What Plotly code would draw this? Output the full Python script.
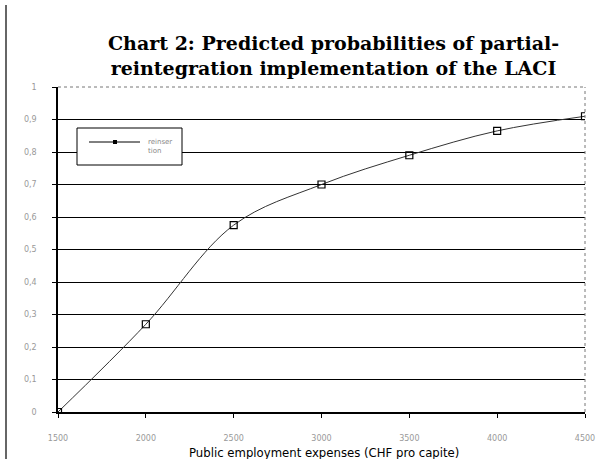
import plotly.graph_objects as go

expenses = [1500, 2000, 2500, 3000, 3500, 4000, 4500]
probability = [0.0, 0.27, 0.575, 0.70, 0.79, 0.865, 0.91]
x_ticks = [1500, 2000, 2500, 3000, 3500, 4000, 4500]
y_ticks = [0, 0.1, 0.2, 0.3, 0.4, 0.5, 0.6, 0.7, 0.8, 0.9, 1.0]
y_labels = ["0", "0,1", "0,2", "0,3", "0,4", "0,5", "0,6", "0,7", "0,8", "0,9", "1"]
series_name = "reinser<br>tion"

W, H = 607, 459
L, R, T, B = 58, 22, 87, 47
PW, PH = W - L - R, H - T - B


def px(x):
    return (x - L) / PW


def py(y):
    return (H - B - y) / PH


fig = go.Figure()
fig.add_trace(go.Scatter(
    x=expenses, y=probability, mode="lines+markers", name="reinsertion",
    line=dict(color="#333333", width=1, shape="spline", smoothing=1.0),
    marker=dict(symbol="square-open", size=7, color="black", line=dict(width=1.2)),
    showlegend=False,
))

shapes = [
    dict(type="line", xref="paper", yref="paper", x0=0, x1=1, y0=1, y1=1,
         line=dict(color="#777777", width=1, dash="dot")),
    dict(type="line", xref="paper", yref="paper", x0=1, x1=1, y0=0, y1=1,
         line=dict(color="#777777", width=1, dash="dot")),
    dict(type="line", xref="paper", yref="paper", x0=px(6), x1=px(6), y0=py(459), y1=py(5),
         line=dict(color="#666666", width=2)),
    # legend box
    dict(type="rect", xref="paper", yref="paper", x0=px(77), x1=px(182), y0=py(165), y1=py(128),
         fillcolor="white", line=dict(color="black", width=1), layer="above"),
    dict(type="line", xref="paper", yref="paper", x0=px(89), x1=px(140), y0=py(142), y1=py(142),
         line=dict(color="black", width=1), layer="above"),
    dict(type="rect", xref="paper", yref="paper", x0=px(113), x1=px(117), y0=py(144), y1=py(140),
         fillcolor="black", line=dict(color="black", width=0), layer="above"),
]

fig.update_layout(
    width=W, height=H,
    margin=dict(l=L, r=R, t=T, b=B),
    paper_bgcolor="white", plot_bgcolor="white",
    font=dict(family="DejaVu Sans", color="black"),
    showlegend=False,
    xaxis=dict(
        range=[1500, 4500], tickvals=x_ticks, ticktext=[str(v) for v in x_ticks],
        showgrid=False, zeroline=False,
        showline=True, linecolor="black", linewidth=1.5,
        ticks="outside", ticklen=4, tickcolor="black",
        tickfont=dict(size=8, color="#999999"),
        ticklabelstandoff=14,
    ),
    yaxis=dict(
        range=[0, 1], tickvals=y_ticks, ticktext=y_labels,
        showgrid=True, gridcolor="black", gridwidth=1,
        zeroline=False,
        showline=True, linecolor="black", linewidth=1.5,
        ticks="outside", ticklen=4, tickcolor="black",
        tickfont=dict(size=8, color="#999999"),
        ticklabelstandoff=14,
    ),
    annotations=[
        dict(text="<b>Chart 2: Predicted probabilities of partial-<br>reintegration implementation of the LACI</b>",
             xref="paper", yref="paper", x=px(333), y=py(55), xanchor="center", yanchor="middle",
             showarrow=False,
             font=dict(family="DejaVu Serif", size=19, color="black")),
        dict(text="Public employment expenses (CHF pro capite)",
             xref="paper", yref="paper", x=px(324), y=py(453), xanchor="center", yanchor="middle",
             showarrow=False,
             font=dict(family="DejaVu Sans Condensed", size=13, color="black")),
        dict(text="reinser<br>tion",
             xref="paper", yref="paper", x=px(146), y=py(146), xanchor="left", yanchor="middle",
             showarrow=False, align="left",
             font=dict(family="DejaVu Sans", size=7, color="#888888")),
    ],
    shapes=shapes,
)

fig.write_html("out.html")
